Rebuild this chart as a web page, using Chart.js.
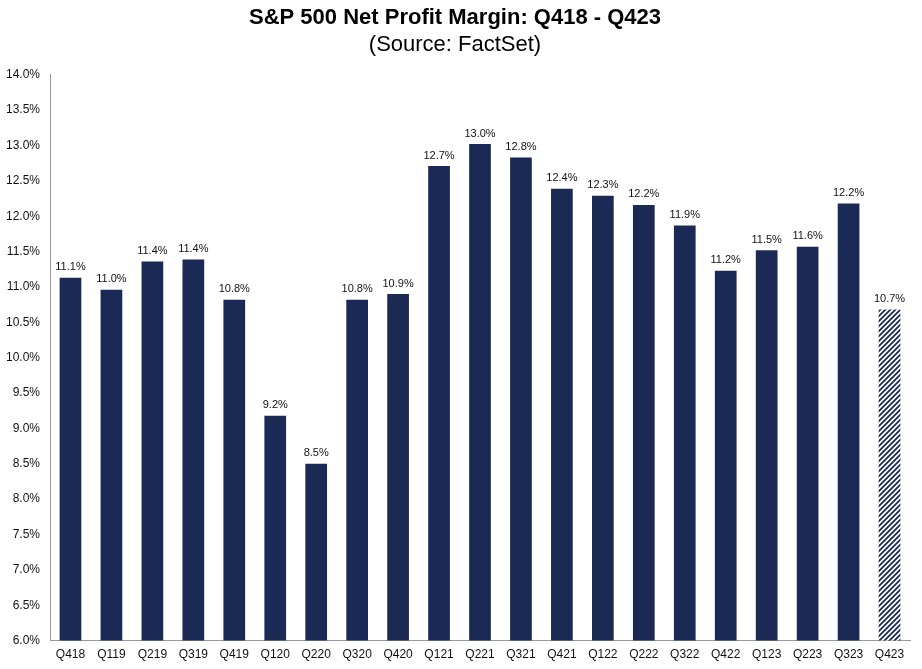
<!DOCTYPE html>
<html>
<head>
<meta charset="utf-8">
<script src="https://cdn.jsdelivr.net/npm/chart.js@4.4.0/dist/chart.umd.min.js"></script>
<style>
  body { margin: 0; background: #fff; }
</style>
</head>
<body>
<canvas id="myChart" width="922" height="669"></canvas>
<script>
// datos del grafico
var quarters = ['Q418','Q119','Q219','Q319','Q419','Q120','Q220','Q320','Q420','Q121',
                'Q221','Q321','Q421','Q122','Q222','Q322','Q422','Q123','Q223','Q323','Q423'];
var margins = [11.13,10.96,11.36,11.39,10.82,9.18,8.50,10.82,10.90,12.71,
               13.02,12.83,12.39,12.29,12.16,11.87,11.23,11.52,11.57,12.18,10.68];
var estimated = 'Q423';

var navy = '#1b2a55';
var font = "'Liberation Sans', Arial, sans-serif";

// relleno rayado para el trimestre estimado
function hatch() {
  var c = document.createElement('canvas');
  c.width = 5; c.height = 5;
  var g = c.getContext('2d');
  g.fillStyle = '#fff';
  g.fillRect(0, 0, 5, 5);
  g.strokeStyle = navy;
  g.lineWidth = 1.8;
  g.beginPath();
  g.moveTo(-1, 6); g.lineTo(6, -1);
  g.moveTo(-4, 4); g.lineTo(4, -4);
  g.moveTo(1, 9); g.lineTo(9, 1);
  g.stroke();
  return g.createPattern(c, 'repeat');
}
var pattern = hatch();
var colors = quarters.map(function(q){ return q === estimated ? pattern : navy; });

// etiquetas encima de cada barra
var barLabels = {
  id: 'barLabels',
  afterDatasetsDraw: function(chart) {
    var ctx = chart.ctx;
    var meta = chart.getDatasetMeta(0);
    ctx.save();
    ctx.font = '11px ' + font;
    ctx.fillStyle = '#111';
    ctx.textAlign = 'center';
    ctx.textBaseline = 'bottom';
    meta.data.forEach(function(bar, i) {
      ctx.fillText(margins[i].toFixed(1) + '%', bar.x, bar.y - 5);
    });
    ctx.restore();
  }
};

var myChart = new Chart(document.getElementById('myChart'), {
  type: 'bar',
  data: {
    labels: quarters,
    datasets: [{
      data: margins,
      backgroundColor: colors,
      borderWidth: 0,
      barPercentage: 0.53,
      categoryPercentage: 1
    }]
  },
  options: {
    responsive: false,
    devicePixelRatio: 1,
    animation: false,
    layout: { padding: { left: 0, right: 12, top: 2, bottom: 0 } },
    plugins: {
      legend: { display: false },
      tooltip: { enabled: false },
      title: {
        display: true,
        text: 'S&P 500 Net Profit Margin: Q418 - Q423',
        color: '#000',
        font: { family: font, size: 22, weight: 'bold' },
        padding: { top: 3, bottom: 0 }
      },
      subtitle: {
        display: true,
        text: '(Source: FactSet)',
        color: '#000',
        font: { family: font, size: 22 },
        padding: { top: 0, bottom: 17 }
      }
    },
    scales: {
      x: {
        grid: { display: false, drawTicks: false },
        border: { display: true, color: '#999', width: 1 },
        ticks: { color: '#111', font: { family: font, size: 12 }, padding: 7, maxRotation: 0, autoSkip: false }
      },
      y: {
        min: 6,
        max: 14,
        grid: { display: false, drawTicks: false },
        border: { display: true, color: '#999', width: 1 },
        ticks: {
          stepSize: 0.5,
          color: '#111',
          font: { family: font, size: 12 },
          padding: 10,
          callback: function(v) { return v.toFixed(1) + '%'; }
        },
        afterFit: function(scale) { scale.width = 50; }
      }
    }
  },
  plugins: [barLabels]
});
</script>
</body>
</html>
